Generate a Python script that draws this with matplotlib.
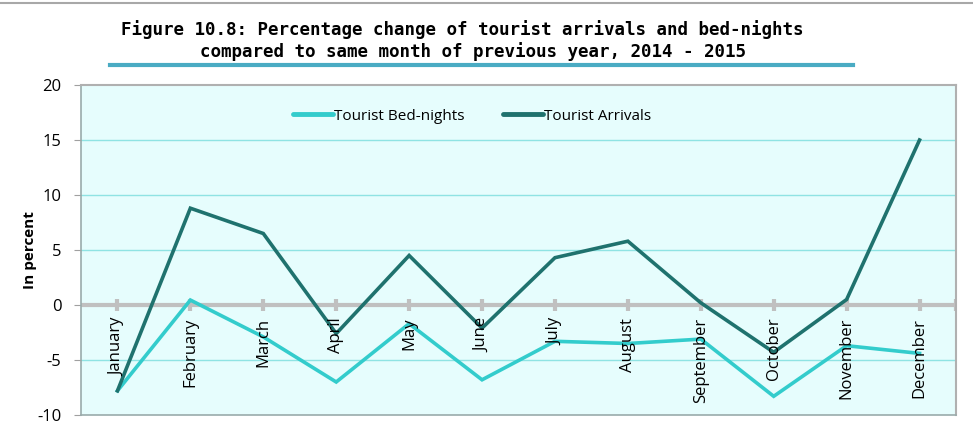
import matplotlib.pyplot as plt
from matplotlib.lines import Line2D

months = ["January", "February", "March", "April", "May", "June", "July",
          "August", "September", "October", "November", "December"]
bed_nights = [-7.8, 0.45, -2.9, -7.0, -1.7, -6.8, -3.3, -3.5, -3.1, -8.3, -3.7, -4.4]
arrivals = [-7.8, 8.8, 6.5, -2.6, 4.5, -2.1, 4.3, 5.8, 0.2, -4.3, 0.5, 15.0]
yticks = [-10, -5, 0, 5, 10, 15, 20]

BED_COLOR = "#33cccc"
ARR_COLOR = "#1f726e"

fig = plt.figure(figsize=(9.73, 4.42), dpi=100)
ax = fig.add_axes([81 / 973, 27 / 442, 875 / 973, 330 / 442])
ax.set_facecolor("#e6fdfd")

x = list(range(len(months)))
ax.set_xlim(-0.5, len(months) - 0.5)
ax.set_ylim(-10, 20)

# grid lines
for v in yticks:
    if v not in (0, -10, 20):
        ax.axhline(v, color="#8fe3e3", lw=1, zorder=1)
ax.axhline(0, color="#c0c0c0", lw=3, zorder=2)
ax.plot(x + [len(months) - 0.5], [0] * (len(months) + 1), ls="none", marker="|",
        ms=8, mew=3, color="#c0c0c0", zorder=2)

ax.plot(x, bed_nights, color=BED_COLOR, lw=2.6, zorder=3, solid_joinstyle="miter")
ax.plot(x, arrivals, color=ARR_COLOR, lw=2.6, zorder=4, solid_joinstyle="miter")

for i, m in enumerate(months):
    ax.text(i, -1.15, m, rotation=90, ha="center", va="top", fontsize=12,
            family="Open Sans", zorder=5)

ax.set_xticks([])
ax.set_yticks(yticks)
ax.set_yticklabels([str(v) for v in yticks], fontsize=12, family="Open Sans")
ax.tick_params(axis="y", length=5, color="#a0a0a0", pad=9)
ax.set_ylabel("In percent", fontsize=11, fontweight="bold", family="Open Sans", labelpad=0)

for s in ("left", "bottom"):
    ax.spines[s].set_color("#9aabab")
    ax.spines[s].set_linewidth(1.2)
for s in ("top", "right"):
    ax.spines[s].set_color("#b0b0b0")
    ax.spines[s].set_linewidth(1.5)

handles = [Line2D([], [], color=BED_COLOR, lw=3.5, solid_capstyle="round"),
           Line2D([], [], color=ARR_COLOR, lw=3.5, solid_capstyle="round")]
ax.legend(handles, ["Tourist Bed-nights", "Tourist Arrivals"], loc="upper center",
          bbox_to_anchor=(0.447, 0.97), ncol=2, frameon=False, handlelength=2.6,
          handletextpad=0.1, columnspacing=2.5, prop={"family": "Open Sans", "size": 11})

# title
fig.text(462 / 973, 1 - 30 / 442, "Figure 10.8: Percentage change of tourist arrivals and bed-nights",
         ha="center", va="center", fontsize=12.6, fontweight="bold", family="DejaVu Sans Mono")
fig.text(473 / 973, 1 - 52 / 442, "compared to same month of previous year, 2014 - 2015",
         ha="center", va="center", fontsize=12.6, fontweight="bold", family="DejaVu Sans Mono")
fig.add_artist(Line2D([110 / 973, 853 / 973], [1 - 65 / 442] * 2, color="#4aabc3", lw=3))
fig.add_artist(Line2D([0, 1], [1 - 3 / 442] * 2, color="#a8a8a8", lw=1.5))

fig.savefig("out.png", dpi=100)
